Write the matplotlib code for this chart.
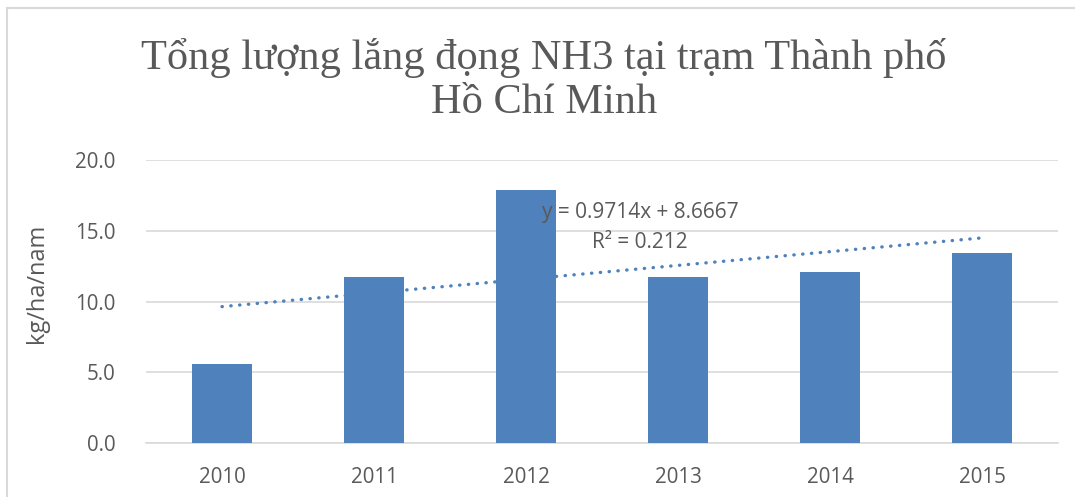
import numpy as np
import matplotlib
matplotlib.use("Agg")
import matplotlib.pyplot as plt
from matplotlib.lines import Line2D

# ---- data ----
years = ["2010", "2011", "2012", "2013", "2014", "2015"]
nh3 = [5.6, 11.7, 17.9, 11.7, 12.1, 13.4]
yticks = [0.0, 5.0, 10.0, 15.0, 20.0]

title = "Tổng lượng lắng đọng NH3 tại trạm Thành phố\nHồ Chí Minh"
ylabel = "kg/ha/nam"

BLUE = "#4f81bd"
TXT = "#595959"
GRID = "#d9d9d9"
FONT = "Open Sans"

fig = plt.figure(figsize=(10.75, 4.97), dpi=100)
ax = fig.add_axes([146 / 1075, 1 - 443 / 497, 912 / 1075, 283 / 497])

x = np.arange(len(years))
ax.bar(x, nh3, width=0.4, color=BLUE, zorder=3)

# linear trendline (Excel-style, x = 1..n)
xn = x + 1
slope, intercept = np.polyfit(xn, nh3, 1)
fit = slope * xn + intercept
r2 = 1 - np.sum((np.array(nh3) - fit) ** 2) / np.sum((np.array(nh3) - np.mean(nh3)) ** 2)
ax.plot(x, fit, color=BLUE, lw=2.4, linestyle=(0, (0.1, 2.55)),
        dash_capstyle="round", zorder=4)
ax.text(2.75, 16.3, f"y = {slope:.4f}x + {intercept:.4f}", ha="center", va="center",
        fontsize=15, color=TXT, family=FONT, zorder=5)
ax.text(2.75, 14.2, f"R² = {r2:.3f}", ha="center", va="center",
        fontsize=15, color=TXT, family=FONT, zorder=5)

ax.set_xlim(-0.5, len(years) - 0.5)
ax.set_ylim(0, 20)
ax.set_yticks(yticks)
ax.set_yticklabels([f"{v:.1f}" for v in yticks])
ax.set_xticks(x)
ax.set_xticklabels(years)
ax.tick_params(length=0, labelsize=14.8, labelcolor=TXT)
for lab in ax.get_xticklabels() + ax.get_yticklabels():
    lab.set_family(FONT)
ax.tick_params(axis="x", pad=17)
ax.tick_params(axis="y", pad=22)

ax.grid(axis="y", color=GRID, lw=1.2, zorder=0)
for s in ["top", "right", "left"]:
    ax.spines[s].set_visible(False)
ax.spines["bottom"].set_color(GRID)
ax.spines["bottom"].set_linewidth(1.2)

fig.text(37 / 1075, 1 - 283 / 497, ylabel, rotation=90, ha="center", va="center",
         fontsize=17, color=TXT, family=FONT)
fig.text(544 / 1075, 1 - 80 / 497, title, ha="center", va="center",
         fontsize=30.5, color=TXT, family="Liberation Serif", linespacing=1.18)

# chart frame (top and left edges visible)
fig.add_artist(Line2D([7 / 1075, 7 / 1075], [0, 1 - 8 / 497], color=GRID, lw=1.5))
fig.add_artist(Line2D([7 / 1075, 1], [1 - 8 / 497, 1 - 8 / 497], color=GRID, lw=1.5))

fig.savefig("out.png", dpi=100)
